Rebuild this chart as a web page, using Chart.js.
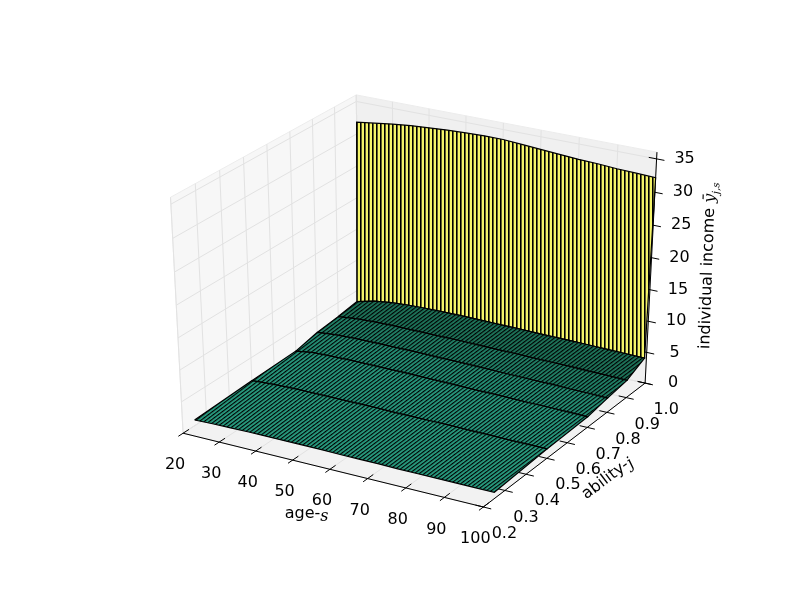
<!DOCTYPE html>
<html lang="en">
<head>
<meta charset="UTF-8">
<title>individual income surface</title>
<script src="https://cdn.jsdelivr.net/npm/chart.js@4.4.1/dist/chart.umd.min.js"></script>
<style>
  body { margin: 0; background: #fff; }
</style>
</head>
<body>
<canvas id="myChart" width="800" height="600"></canvas>
<script>
// data
const ages = [20, 25, 30, 35, 40, 45, 50, 55, 60, 65, 70, 75, 80, 85, 90, 95, 100]
const abilities = [0.25, 0.5, 0.7, 0.8, 0.9, 0.99, 1.0]
const income025 = [0.9, 1.0, 1.05, 1.1, 1.1, 1.1, 1.1, 1.1, 1.05, 1.05, 1.05, 1.0, 1.0, 1.0, 1.0, 1.0, 1.0]
const income050 = [1.3, 1.5, 1.6, 1.65, 1.65, 1.65, 1.65, 1.65, 1.6, 1.6, 1.6, 1.6, 1.55, 1.55, 1.5, 1.5, 1.5]
const income070 = [1.5, 1.9, 2.0, 2.05, 2.05, 2.05, 2.05, 2.0, 2.0, 1.95, 1.9, 1.9, 1.85, 1.8, 1.8, 1.75, 1.7]
const income080 = [2.3, 2.6, 2.7, 2.75, 2.75, 2.75, 2.75, 2.7, 2.7, 2.65, 2.6, 2.55, 2.5, 2.5, 2.4, 2.4, 2.3]
const income090 = [2.7, 3.0, 3.15, 3.2, 3.2, 3.2, 3.2, 3.2, 3.15, 3.1, 3.1, 3.05, 3.0, 3.0, 2.9, 2.9, 2.8]
const income099 = [3.2, 3.9, 4.3, 4.5, 4.6, 4.65, 4.65, 4.65, 4.6, 4.6, 4.55, 4.5, 4.5, 4.45, 4.4, 4.35, 4.3]
const income100 = [31.8, 32.2, 32.6, 32.9, 33.1, 33.3, 33.4, 33.5, 33.5, 33.3, 33.1, 32.9, 32.7, 32.6, 32.4, 32.3, 32.2]
const incomeRows = [income025, income050, income070, income080, income090, income099, income100]

const ageTicks = [20, 30, 40, 50, 60, 70, 80, 90, 100]
const abilityTicks = [0.2, 0.3, 0.4, 0.5, 0.6, 0.7, 0.8, 0.9, 1.0]
const incomeTicks = [0, 5, 10, 15, 20, 25, 30, 35]

// view: elev 30, azim -60, like matplotlib's default 3d axes
const AGE0 = 20, AGE1 = 100, AB0 = 0.2, AB1 = 1.0, ZMAX = 35, ZBOX = 36
const E = [0.5 + 4.330, 0.5 - 7.5, 0.5 + 5]
const U = [0.866, 0.5, 0]
const V = [-0.25, 0.433, 0.866]
const N = [0.433, -0.75, 0.5]
const KX = 3466, CX = 417.6, KY = 2615, CY = 297.3

function proj(a, b, z) {
    let p = [(a - AGE0) / (AGE1 - AGE0), (b - AB0) / (AB1 - AB0), z / ZMAX]
    let d = [p[0] - E[0], p[1] - E[1], p[2] - E[2]]
    let xv = d[0] * U[0] + d[1] * U[1] + d[2] * U[2]
    let yv = d[0] * V[0] + d[1] * V[1] + d[2] * V[2]
    let zv = d[0] * N[0] + d[1] * N[1] + d[2] * N[2]
    return { x: CX + KX * (xv / -zv), y: CY - KY * (yv / -zv) }
}

function stripes(color, period, lw, angle) {
    let c = document.createElement('canvas')
    c.width = period; c.height = period
    let g = c.getContext('2d')
    g.fillStyle = color
    g.fillRect(0, 0, period, period)
    g.fillStyle = '#000'
    g.fillRect(0, 0, lw, period)
    let pat = g.createPattern(c, 'repeat')
    pat.setTransform(new DOMMatrix().rotate(angle))
    return pat
}

var sets = []
function poly(pts, bg, border, width) {
    pts.push(pts[0])
    sets.push({ data: pts, showLine: true, fill: 'shape', backgroundColor: bg,
        borderColor: border, borderWidth: width, pointRadius: 0, tension: 0 })
}
function seg(p1, p2, color, width) {
    sets.push({ data: [p1, p2], showLine: true, fill: false, borderColor: color,
        borderWidth: width, pointRadius: 0, tension: 0 })
}

// panes
poly([proj(20, 0.2, 0), proj(100, 0.2, 0), proj(100, 1, 0), proj(20, 1, 0)], '#f2f2f2', '#ececec', 1)
poly([proj(20, 1, 0), proj(100, 1, 0), proj(100, 1, ZBOX), proj(20, 1, ZBOX)], '#f0f0f0', '#ececec', 1)
poly([proj(20, 0.2, 0), proj(20, 1, 0), proj(20, 1, ZBOX), proj(20, 0.2, ZBOX)], '#f7f7f7', '#ececec', 1)

// grid
const gridColor = '#e2e2e2'
ageTicks.forEach(a => {
    seg(proj(a, 0.2, 0), proj(a, 1, 0), gridColor, 1)
    seg(proj(a, 1, 0), proj(a, 1, ZBOX), gridColor, 1)
})
abilityTicks.forEach(b => {
    seg(proj(20, b, 0), proj(100, b, 0), gridColor, 1)
    seg(proj(20, b, 0), proj(20, b, ZBOX), gridColor, 1)
})
incomeTicks.forEach(z => {
    seg(proj(20, 1, z), proj(100, 1, z), gridColor, 1)
    seg(proj(20, 0.2, z), proj(20, 1, z), gridColor, 1)
})

// axes and ticks
seg(proj(20, 0.2, 0), proj(100, 0.2, 0), '#000', 1)
seg(proj(100, 0.2, 0), proj(100, 1, 0), '#000', 1)
seg(proj(100, 1, 0), proj(100, 1, ZBOX), '#000', 1)
ageTicks.forEach(a => seg(proj(a, 0.18, 0), proj(a, 0.225, 0), '#000', 1))
abilityTicks.forEach(b => seg(proj(98, b, 0), proj(102, b, 0), '#000', 1))
incomeTicks.forEach(z => seg(proj(98, 1, z), proj(102, 1, z), '#000', 1))

// surface strips, back to front
const wallPat = stripes('#f4f46a', 4, 1.6, 0)
const stripColors = ['#2aa486', '#29a084', '#26977b', '#22876c', '#1f7a5e']
for (let k = abilities.length - 2; k >= 0; k--) {
    let pts = []
    ages.forEach((a, i) => pts.push(proj(a, abilities[k], incomeRows[k][i])))
    for (let i = ages.length - 1; i >= 0; i--) pts.push(proj(ages[i], abilities[k + 1], incomeRows[k + 1][i]))
    let bg = k == abilities.length - 2 ? wallPat : stripes(stripColors[k], 3, 1.2, 53)
    poly(pts, bg, '#000', 1.2)
}

sets.forEach((s, i) => s.order = sets.length - i)

const FS = 16
const labelsPlugin = {
    id: 'labels',
    afterDraw(chart) {
        let ctx = chart.ctx
        let sx = chart.scales.x, sy = chart.scales.y
        let px = p => ({ x: sx.getPixelForValue(p.x), y: sy.getPixelForValue(p.y) })
        ctx.save()
        ctx.fillStyle = '#000'
        ctx.font = FS + 'px "DejaVu Sans"'
        ctx.textAlign = 'center'
        ctx.textBaseline = 'middle'
        ageTicks.forEach(a => { let p = px(proj(a, 0.2, 0)); ctx.fillText(String(a), p.x - 8, p.y + 32) })
        abilityTicks.forEach(b => { let p = px(proj(100, b, 0)); ctx.fillText(b.toFixed(1), p.x + 21, p.y + 27) })
        incomeTicks.forEach(z => { let p = px(proj(100, 1, z)); ctx.fillText(String(z), p.x + 28, p.y) })

        // age-s
        ctx.textAlign = 'left'
        let w1 = ctx.measureText('age-').width
        ctx.fillText('age-', 307 - (w1 + 9) / 2, 514)
        ctx.font = 'italic ' + FS + 'px "DejaVu Serif"'
        ctx.fillText('s', 307 - (w1 + 9) / 2 + w1, 517)

        // ability-j
        ctx.save()
        ctx.translate(608, 478)
        ctx.rotate(-37 * Math.PI / 180)
        ctx.font = FS + 'px "DejaVu Sans"'
        let w2 = ctx.measureText('ability-').width
        ctx.fillText('ability-', -(w2 + 6) / 2, 0)
        ctx.font = 'italic ' + FS + 'px "DejaVu Serif"'
        ctx.fillText('j', -(w2 + 6) / 2 + w2, 2)
        ctx.restore()

        // individual income y-bar_{j,s}
        ctx.save()
        ctx.translate(708, 264)
        ctx.rotate(-88 * Math.PI / 180)
        ctx.font = FS + 'px "DejaVu Sans"'
        let w3 = ctx.measureText('individual income ').width
        let x0 = -(w3 + 24) / 2
        ctx.fillText('individual income ', x0, 0)
        ctx.font = 'italic ' + FS + 'px "DejaVu Serif"'
        ctx.fillText('y\u0304', x0 + w3, 0)
        ctx.font = 'italic 10px "DejaVu Serif"'
        ctx.fillText('j,s', x0 + w3 + 9, 6)
        ctx.restore()
        ctx.restore()
    }
}

var ctx = document.getElementById('myChart').getContext('2d')
window.chart = new Chart(ctx, {
    type: 'scatter',
    data: { datasets: sets },
    options: {
        responsive: false,
        animation: false,
        layout: { padding: 0 },
        plugins: { legend: { display: false }, tooltip: { enabled: false } },
        scales: {
            x: { type: 'linear', min: 0, max: 800, display: false },
            y: { type: 'linear', min: 0, max: 600, reverse: true, display: false }
        }
    },
    plugins: [labelsPlugin]
})
</script>
</body>
</html>
